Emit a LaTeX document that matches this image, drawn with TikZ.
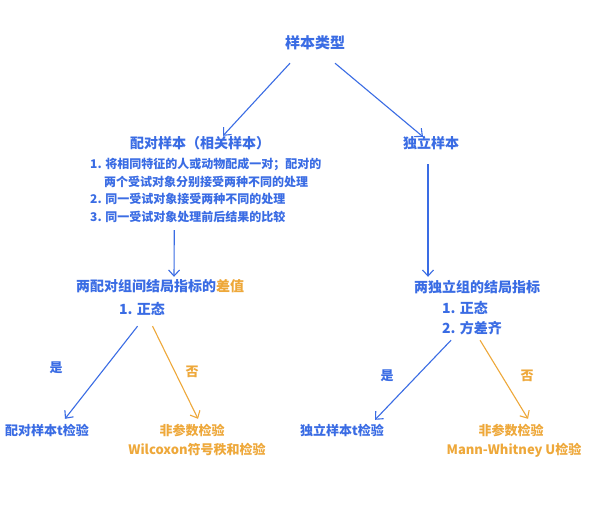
\documentclass[tikz,border=0pt]{standalone}
\usepackage{fontspec}
\setmainfont{Noto Sans CJK SC}
\usetikzlibrary{arrows.meta}
\definecolor{cblue}{RGB}{58,108,228}
\definecolor{corange}{RGB}{238,168,58}
\tikzset{
  lbl/.style={inner sep=0pt, text height=0.88em, text depth=0.12em, font=\bfseries},
  big/.style={lbl, font=\fontsize{14}{14}\selectfont\bfseries, text=cblue},
  top/.style={lbl, font=\fontsize{15}{15}\selectfont\bfseries, text=cblue},
  item/.style={lbl, font=\fontsize{12}{12}\selectfont\bfseries, text=cblue, anchor=west},
  res/.style={lbl, font=\fontsize{13}{13}\selectfont\bfseries},
  arr/.style={draw=cblue, line width=1.1pt, -{Straight Barb[length=6pt,width=11pt]}},
  arro/.style={draw=corange, line width=1.1pt, -{Straight Barb[length=6pt,width=11pt]}}
}
\begin{document}
\begin{tikzpicture}[x=1pt,y=-1pt]
\useasboundingbox[fill=white] (0,0) rectangle (600,513);
\node[top] (root) at (315,45) {样本类型};
\node[big] (paired) at (200,145) {配对样本（相关样本）};
\node[big] (indep) at (431,145) {独立样本};
\node[item] (l1) at (90,165) {1. 将相同特征的人或动物配成一对；配对的};
\node[item] (l2) at (104,183) {两个受试对象分别接受两种不同的处理};
\node[item] (l3) at (90,200) {2. 同一受试对象接受两种不同的处理};
\node[item] (l4) at (90,218) {3. 同一受试对象处理前后结果的比较};
\node[big] (diff) at (160,288) {两配对组间结局指标的\textcolor{corange}{差值}};
\node[big, anchor=west] (diff1) at (119,311) {1. 正态};
\node[big] (indt) at (477,289) {两独立组的结局指标};
\node[big, anchor=west] (ind1) at (442,310) {1. 正态};
\node[big, anchor=west] (ind2) at (442,330) {2. 方差齐};
\node[res, text=cblue] (pt1) at (47,432) {配对样本t检验};
\node[res, text=corange] (np1) at (192,432) {非参数检验};
\node[res, text=corange] (wil) at (197,451) {Wilcoxon符号秩和检验};
\node[res, text=cblue] (pt2) at (342,432) {独立样本t检验};
\node[res, text=corange] (np2) at (511,432) {非参数检验};
\node[res, text=corange] (mw) at (514,451) {Mann-Whitney U检验};
\node[res, text=cblue] (yes1) at (56,369) {是};
\node[res, text=corange] (no1) at (192,373) {否};
\node[res, text=cblue] (yes2) at (387,377) {是};
\node[res, text=corange] (no2) at (527,377) {否};
\draw[arr] ([xshift=-25pt,yshift=-13pt]root.south) -- ([xshift=23pt,yshift=4pt]paired.north);
\draw[arr] ([xshift=20pt,yshift=-13pt]root.south) -- ([xshift=-8pt,yshift=3pt]indep.north);
\draw[arr] ([xshift=-13.5pt,yshift=-7pt]l4.south) -- ([xshift=14pt,yshift=6pt]diff.north);
\draw[arr] ([xshift=-3pt,yshift=-14pt]indep.south) -- ([xshift=-49pt,yshift=7pt]indt.north);
\draw[arr] ([xshift=-4.5pt,yshift=-10pt]diff1.south) -- ([xshift=18pt,yshift=8pt]pt1.north);
\draw[arro] ([xshift=10.5pt,yshift=-10pt]diff1.south) -- ([xshift=6pt,yshift=8pt]np1.north);
\draw[arr] ([xshift=-21pt,yshift=-5pt]ind2.south) -- ([xshift=33pt,yshift=7pt]pt2.north);
\draw[arro] ([xshift=8pt,yshift=-5pt]ind2.south) -- ([xshift=17pt,yshift=8pt]np2.north);
\end{tikzpicture}
\end{document}
